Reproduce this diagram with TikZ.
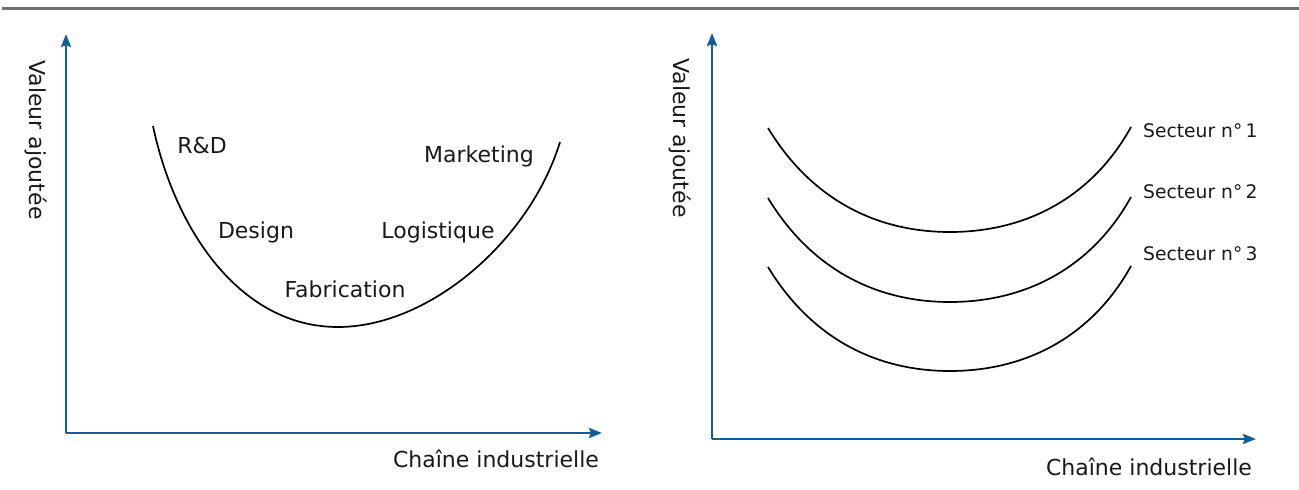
\documentclass[tikz,border=0pt]{standalone}
\usepackage{fontspec}
\setmainfont{DejaVu Sans}
\usetikzlibrary{arrows.meta}
\definecolor{axisblue}{HTML}{135E96}
\definecolor{rulegray}{HTML}{707070}
\tikzset{
  axis/.style={draw=axisblue, line width=2.9pt, -{Stealth[length=13pt,width=10pt,inset=2pt]}},
  curve/.style={draw=black, line width=1.7pt},
  lbl/.style={font=\fontsize{22}{26}\selectfont, text=black!90, inner sep=0pt},
  slbl/.style={font=\fontsize{18.7}{22}\selectfont, text=black!90, inner sep=0pt},
}
\begin{document}
\begin{tikzpicture}[x=1pt,y=-1pt]
\useasboundingbox (0,0) rectangle (1299,490);
% top rule
\draw[rulegray, line width=2.8pt] (2,8.5) -- (1299,8.5);
% left axes
\coordinate (LO) at (66,433);
\coordinate (LY) at (66,34);
\coordinate (LX) at (602,433);
\draw[axis] (LO) -- (LY);
\draw[axis] (LO) -- (LX);
% right axes
\coordinate (RO) at (712,439);
\coordinate (RY) at (712,33);
\coordinate (RX) at (1256,439);
\draw[axis] (RO) -- (RY);
\draw[axis] (RO) -- (RX);
% axis labels
\node[lbl, rotate=-90] (ly) at (36,140) {Valeur ajoutée};
\node[lbl, rotate=-90] (ry) at (680,138) {Valeur ajoutée};
\node[lbl, anchor=base] (lx) at (496,467) {Chaîne industrielle};
\node[lbl, anchor=base] (rx) at (1149,475) {Chaîne industrielle};
% left smile curve
\draw[curve] (153,126) .. controls (175,230) and (240,327) .. (338,327)
  .. controls (430,327) and (530,240) .. (560,142);
\node[lbl, anchor=base] (rd) at (202,153) {R\&D};
\node[lbl, anchor=base] (mk) at (479,162) {Marketing};
\node[lbl, anchor=base] (ds) at (256,238) {Design};
\node[lbl, anchor=base] (lg) at (438,238) {Logistique};
\node[lbl, anchor=base] (fb) at (345,297) {Fabrication};
% right curves
\foreach \dy in {0,70,139}{
  \draw[curve, yshift=-\dy pt] (768,128) .. controls (808,194) and (870,232) .. (950,232)
    .. controls (1030,232) and (1094,194) .. (1131,127);
}
\node[slbl, anchor=base west] (s1) at (1143,137) {Secteur n°\,1};
\node[slbl, anchor=base west] (s2) at (1143,198) {Secteur n°\,2};
\node[slbl, anchor=base west] (s3) at (1143,260) {Secteur n°\,3};
\end{tikzpicture}
\end{document}
